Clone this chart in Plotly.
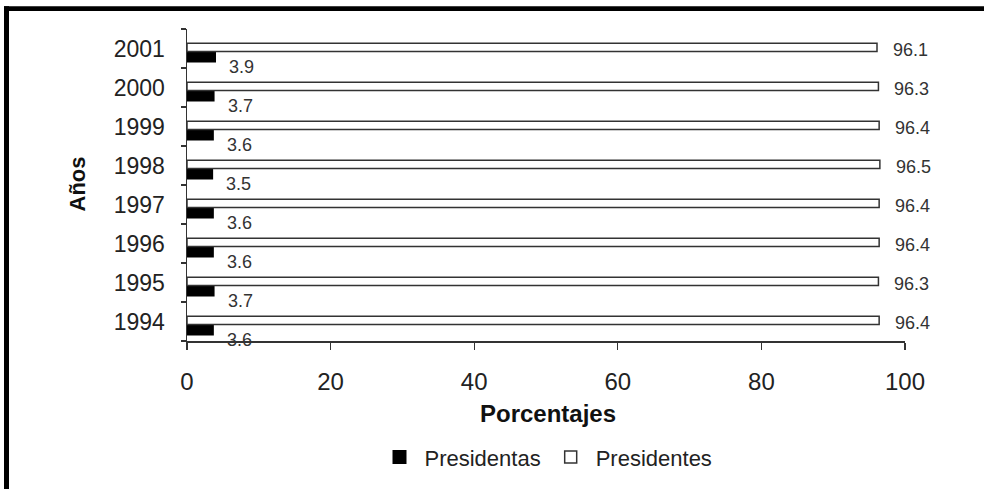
import plotly.graph_objects as go

# ---- data ----
years = ["1994", "1995", "1996", "1997", "1998", "1999", "2000", "2001"]
presidentas = [3.6, 3.7, 3.6, 3.6, 3.5, 3.6, 3.7, 3.9]
presidentes = [96.4, 96.3, 96.4, 96.4, 96.5, 96.4, 96.3, 96.1]
x_ticks = [0, 20, 40, 60, 80, 100]
x_title = "Porcentajes"
y_title = "Años"
name_f = "Presidentas"
name_m = "Presidentes"

W, H = 984, 490
ML, MR, MT, MB = 187, 79, 29, 147
PW, PH = W - ML - MR, H - MT - MB
FONT = "Arial, Liberation Sans, Helvetica, sans-serif"


def px_x(p):
    return (p - ML) / PW


def px_y(p):
    return (H - MB - p) / PH


fig = go.Figure()
fig.add_trace(go.Bar(
    y=years, x=presidentas, orientation="h", name=name_f,
    marker=dict(color="#000000", line=dict(color="#000000", width=2)),
    offset=-0.335, width=0.25,
))
fig.add_trace(go.Bar(
    y=years, x=presidentes, orientation="h", name=name_m,
    marker=dict(color="#ffffff", line=dict(color="#333333", width=1.5)),
    offset=-0.08, width=0.215,
))

annotations = []
for i, v in enumerate(presidentas):
    annotations.append(dict(x=v, y=i, xref="x", yref="y", text=f"{v:.1f}",
                            showarrow=False, xanchor="left", yanchor="middle",
                            xshift=12, yshift=-18,
                            font=dict(family=FONT, size=18, color="#333333")))
for i, v in enumerate(presidentes):
    annotations.append(dict(x=v, y=i, xref="x", yref="y", text=f"{v:.1f}",
                            showarrow=False, xanchor="left", yanchor="middle",
                            xshift=14, yshift=-1.5,
                            font=dict(family=FONT, size=18, color="#333333")))

# axis titles
annotations.append(dict(x=px_x(548), y=px_y(416), xref="paper", yref="paper",
                        text=f"<b>{x_title}</b>", showarrow=False,
                        xanchor="center", yanchor="middle",
                        font=dict(family=FONT, size=24, color="#111111")))
annotations.append(dict(x=px_x(77.5), y=px_y(185), xref="paper", yref="paper",
                        text=f"<b>{y_title}</b>", showarrow=False, textangle=-90,
                        xanchor="center", yanchor="middle",
                        font=dict(family=FONT, size=22, color="#111111")))

# frame (top and left black borders)
shapes = [
    dict(type="rect", xref="paper", yref="paper", layer="above",
         x0=px_x(4), x1=px_x(W + 2), y0=px_y(11), y1=px_y(6),
         fillcolor="#000000", line=dict(width=0)),
    dict(type="rect", xref="paper", yref="paper", layer="above",
         x0=px_x(4), x1=px_x(9), y0=px_y(H + 2), y1=px_y(6),
         fillcolor="#000000", line=dict(width=0)),
]

fig.update_layout(
    width=W, height=H,
    margin=dict(l=ML, r=MR, t=MT, b=MB, pad=0),
    paper_bgcolor="#ffffff", plot_bgcolor="#ffffff",
    barmode="overlay",
    font=dict(family=FONT, color="#222222"),
    showlegend=True,
    legend=dict(orientation="h", xref="paper", yref="paper",
                x=px_x(546), y=px_y(460), xanchor="center", yanchor="middle",
                font=dict(family=FONT, size=22, color="#222222"),
                itemwidth=40,
                traceorder="normal", itemclick=False, itemdoubleclick=False),
    annotations=annotations,
    shapes=shapes,
    xaxis=dict(range=[0, 100], tickvals=x_ticks, ticktext=[str(t) for t in x_ticks],
               showgrid=False, zeroline=False, showline=True,
               linecolor="#333333", linewidth=1.5,
               ticks="outside", ticklen=7, tickwidth=1.2, tickcolor="#333333",
               tickfont=dict(family=FONT, size=24, color="#222222"),
               ticklabelstandoff=12, fixedrange=True),
    yaxis=dict(type="category", categoryorder="array", categoryarray=years,
               range=[-0.5, len(years) - 0.5],
               showgrid=False, zeroline=False, showline=True,
               linecolor="#333333", linewidth=1.5,
               ticks="outside", tickson="boundaries", ticklen=5, tickwidth=1.2,
               tickcolor="#333333",
               tickfont=dict(family=FONT, size=23, color="#222222"),
               ticklabelstandoff=16, fixedrange=True),
)

fig.write_html("out.html",
               config={"displayModeBar": False, "staticPlot": True},
               post_script="document.body.style.margin='0';document.body.style.overflow='hidden';")
